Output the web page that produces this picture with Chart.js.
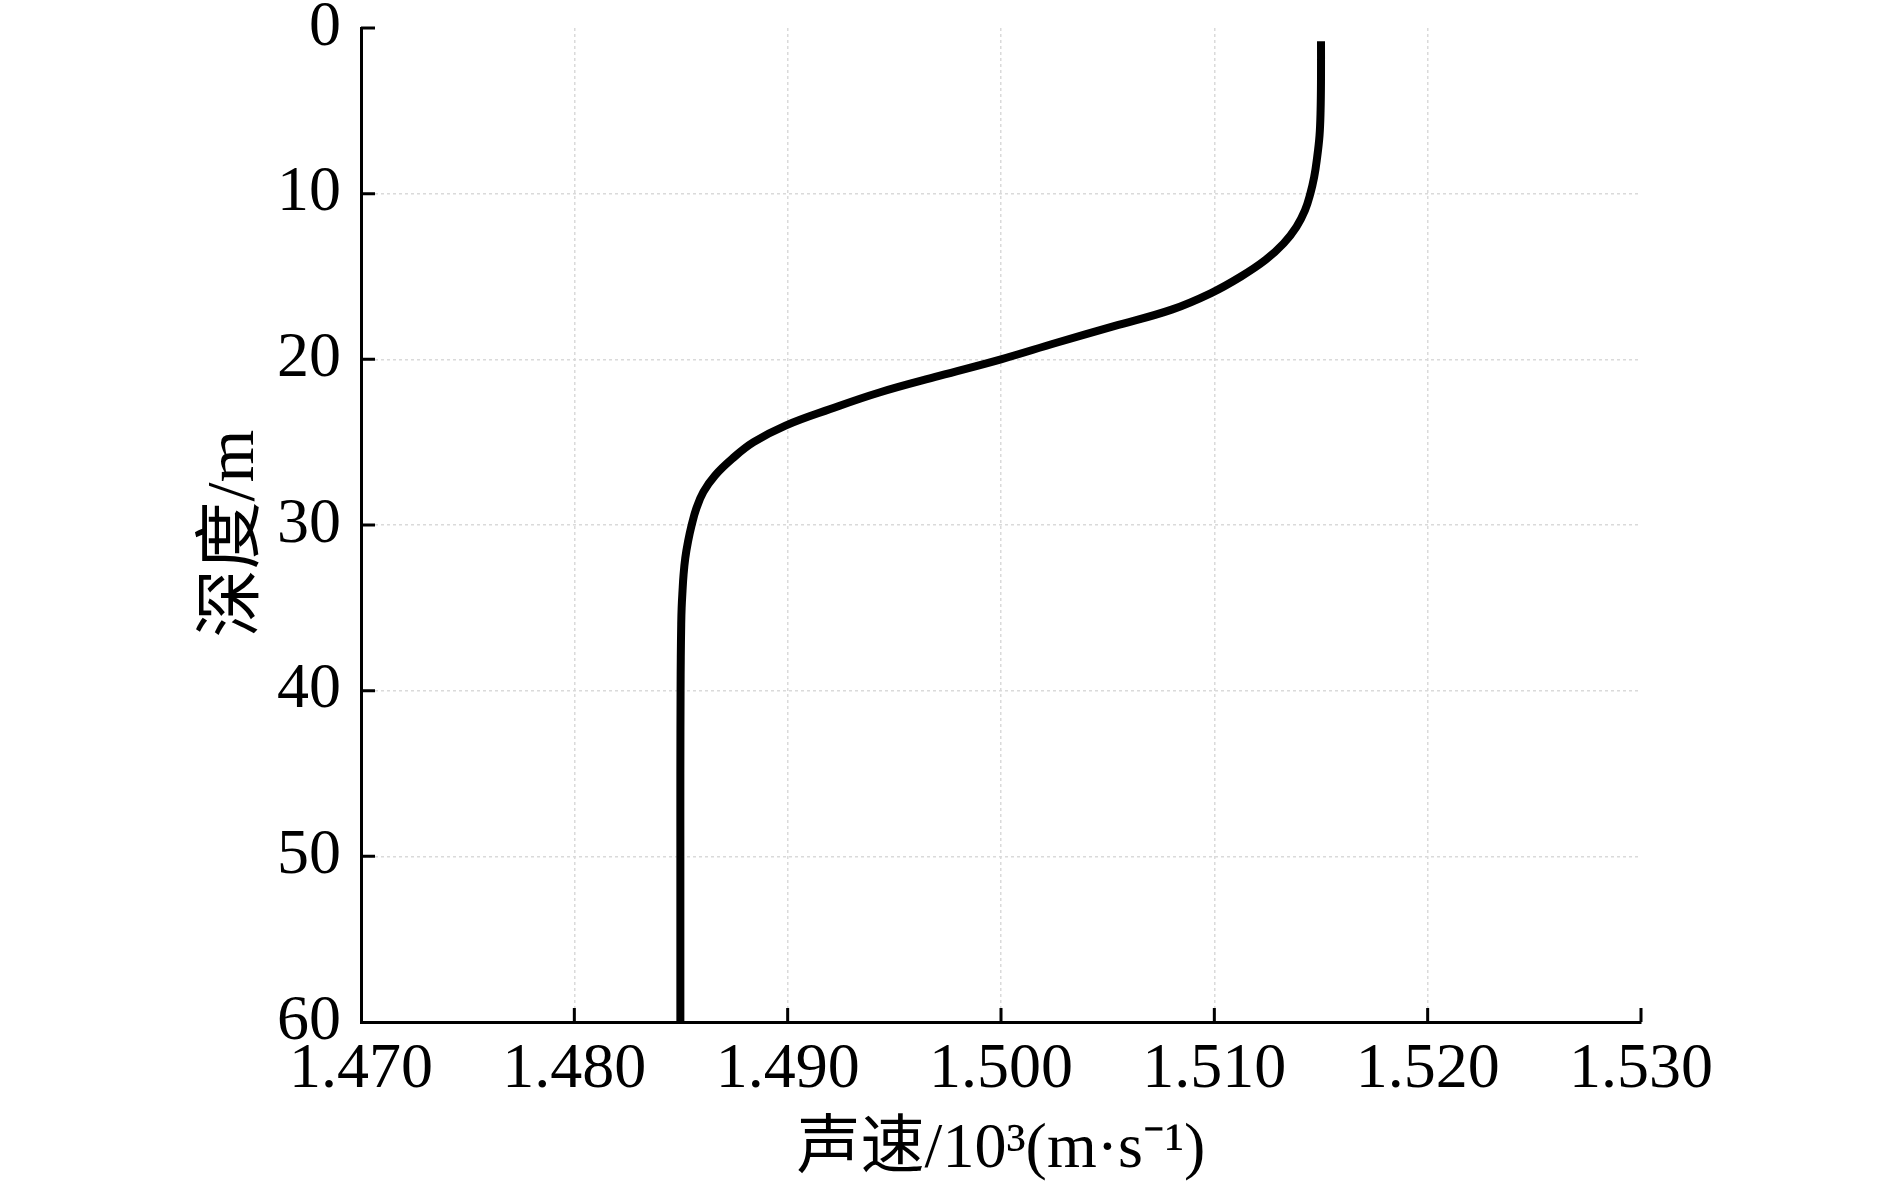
<!DOCTYPE html>
<html>
<head>
<meta charset="utf-8">
<script src="https://cdn.jsdelivr.net/npm/chart.js@4/dist/chart.umd.min.js"></script>
<style>
  body { margin: 0; background: #fff; }
  canvas { display: block; }
</style>
</head>
<body>
<canvas id="soundChart" width="1890" height="1189"></canvas>
<script>
// depth profile (depth in m, speed in 10^3 m/s)
const depths = [0.8, 3, 5, 6.5, 8, 9, 10, 11, 12, 13, 14, 15, 16, 17, 18, 19, 20, 21, 22, 23, 24, 25, 26, 27, 28, 29, 30, 31, 32, 33, 34, 35, 36, 38, 40, 45, 50, 55, 60];
const speeds = [1.5150, 1.5150, 1.51498, 1.51493, 1.51480, 1.51468, 1.51450, 1.51425, 1.51385, 1.51325, 1.51240, 1.51125, 1.50985, 1.50800, 1.50530, 1.50260, 1.50000, 1.49710, 1.49430, 1.49200, 1.48990, 1.48840, 1.48740, 1.48660, 1.48605, 1.48572, 1.48550, 1.48533, 1.48520, 1.48512, 1.48507, 1.48503, 1.48501, 1.48499, 1.48498, 1.48497, 1.48497, 1.48497, 1.48497];

const speedTicks = [1.47, 1.48, 1.49, 1.50, 1.51, 1.52, 1.53];
const depthTicks = [0, 10, 20, 30, 40, 50, 60];

const xTitle = '声速/10³(m·s⁻¹)';
const yTitle = '深度/m ';

const serif = '"Liberation Serif", "Times New Roman", "Noto Sans CJK SC", serif';

// inward tick marks on the left and bottom axes
const innerTicks = {
    id: 'innerTicks',
    afterDraw(chart) {
        const ctx = chart.ctx;
        const area = chart.chartArea;
        const xs = chart.scales.x;
        const ys = chart.scales.y;
        ctx.save();
        ctx.strokeStyle = '#000';
        ctx.lineWidth = 3;
        ctx.beginPath();
        depthTicks.forEach(v => {
            const py = ys.getPixelForValue(v);
            if (v === 60) return;
            ctx.moveTo(area.left, py);
            ctx.lineTo(area.left + 14, py);
        });
        speedTicks.forEach(v => {
            const px = xs.getPixelForValue(v);
            if (v === 1.47) return;
            ctx.moveTo(px, area.bottom);
            ctx.lineTo(px, area.bottom - 14);
        });
        ctx.stroke();
        ctx.restore();
    }
};

const gridColor = (c) => {
    const n = c.scale.ticks.length;
    return (c.index === 0 || c.index === n - 1) ? 'rgba(0,0,0,0)' : '#dadada';
};

const ctx = document.getElementById('soundChart').getContext('2d');

const chart = new Chart(ctx, {
    type: 'scatter',
    data: {
        datasets: [{
            label: 'sound speed',
            data: depths.map((d, i) => ({ x: speeds[i], y: d })),
            showLine: true,
            borderColor: '#000',
            borderWidth: 8,
            pointRadius: 0,
            tension: 0.4,
            fill: false
        }]
    },
    options: {
        responsive: false,
        animation: false,
        layout: { padding: { left: 0, right: 249, top: 28, bottom: 0 } },
        plugins: {
            legend: { display: false },
            tooltip: { enabled: false }
        },
        scales: {
            x: {
                type: 'linear',
                min: 1.47,
                max: 1.53,
                afterBuildTicks: (s) => { s.ticks = speedTicks.map(v => ({ value: v })); },
                afterFit: (s) => { s.height = 167; s.paddingLeft = 0; s.paddingRight = 0; },
                ticks: {
                    color: '#000',
                    padding: 10,
                    maxRotation: 0,
                    autoSkip: false,
                    font: { family: serif, size: 64 },
                    callback: (v) => Number(v).toFixed(3)
                },
                grid: { color: gridColor, lineWidth: 1.5, drawTicks: false },
                border: { display: true, color: '#000', width: 3, dash: [3, 3] },
                title: {
                    display: true,
                    text: xTitle,
                    color: '#000',
                    padding: { top: 0, bottom: 0 },
                    font: { family: serif, size: 64 }
                }
            },
            y: {
                type: 'linear',
                reverse: true,
                min: 0,
                max: 60,
                afterBuildTicks: (s) => { s.ticks = depthTicks.map(v => ({ value: v })); },
                afterFit: (s) => { s.width = 361; s.paddingTop = 0; s.paddingBottom = 0; },
                ticks: {
                    color: '#000',
                    padding: 20,
                    autoSkip: false,
                    font: { family: serif, size: 64 }
                },
                grid: { color: gridColor, lineWidth: 1.5, drawTicks: false },
                border: { display: true, color: '#000', width: 3, dash: [3, 3] },
                title: {
                    display: true,
                    text: yTitle,
                    color: '#000',
                    padding: { top: 194, bottom: 0 },
                    font: { family: serif, size: 68 }
                }
            }
        }
    },
    plugins: [innerTicks]
});
</script>
</body>
</html>
